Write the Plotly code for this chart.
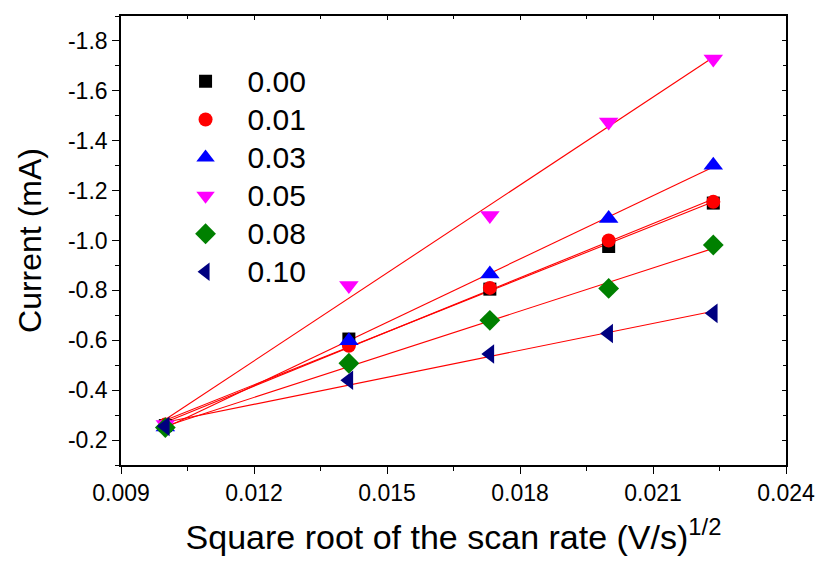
import numpy as np
import plotly.graph_objects as go

# Square root of the scan rate, (V/s)^1/2
sqrt_scan_rate = [0.01, 0.01414, 0.01732, 0.02, 0.02236]

# Peak current (mA) for each additive content
labels = ["0.00", "0.01", "0.03", "0.05", "0.08", "0.10"]
current_000 = [-0.258, -0.605, -0.805, -0.976, -1.150]
current_001 = [-0.262, -0.578, -0.810, -1.000, -1.155]
current_003 = [-0.252, -0.598, -0.866, -1.088, -1.302]
current_005 = [-0.262, -0.820, -1.100, -1.475, -1.728]
current_008 = [-0.250, -0.508, -0.680, -0.808, -0.982]
current_010 = [-0.255, -0.440, -0.545, -0.627, -0.708]

series = [current_000, current_001, current_003, current_005, current_008, current_010]
colors = ["#000000", "#ff0000", "#0000ff", "#ff00ff", "#008000", "#000080"]
symbols = ["square", "circle", "triangle-up", "triangle-down", "diamond", "triangle-left"]
sizes = [13, 14, 17, 17, 16, 17]

y_ticks = [-0.2, -0.4, -0.6, -0.8, -1.0, -1.2, -1.4, -1.6, -1.8]
y_ticktext = ["-0.2", "-0.4", "-0.6", "-0.8", "-1.0", "-1.2", "-1.4", "-1.6", "-1.8"]
x_ticks = [0.009, 0.012, 0.015, 0.018, 0.021, 0.024]
x_ticktext = ["0.009", "0.012", "0.015", "0.018", "0.021", "0.024"]

FONT = "Arial, Liberation Sans, sans-serif"

fig = go.Figure()

x_arr = np.array(sqrt_scan_rate)

# Linear fits (drawn first, behind the markers)
for vals in series:
    slope, icpt = np.polyfit(x_arr, np.array(vals), 1)
    xf = np.array([x_arr.min(), x_arr.max()])
    fig.add_trace(go.Scatter(
        x=xf, y=slope * xf + icpt, mode="lines",
        line=dict(color="#ff0000", width=1.1),
        showlegend=False, hoverinfo="skip",
    ))

for name, vals, c, s, sz in zip(labels, series, colors, symbols, sizes):
    fig.add_trace(go.Scatter(
        x=sqrt_scan_rate, y=vals, mode="markers",
        name=f"<span style='font-size:30px'>{name}</span>",
        marker=dict(color=c, symbol=s, size=sz, line=dict(width=0)),
    ))

axis_common = dict(
    showline=True, linecolor="black", linewidth=1.6,
    showgrid=False, zeroline=False,
    ticks="outside", ticklen=7, tickwidth=1.3, tickcolor="black",
    tickfont=dict(family=FONT, size=23, color="black"),
)

fig.update_layout(
    width=827, height=562,
    margin=dict(l=121, r=32, t=16, b=89),
    paper_bgcolor="white", plot_bgcolor="white",
    font=dict(family=FONT, color="black"),
    xaxis=dict(
        **axis_common,
        range=[0.009, 0.024], tickvals=x_ticks, ticktext=x_ticktext,
        minor=dict(dtick=0.0015, tick0=0.009, ticks="outside", ticklen=4,
                   tickwidth=1.2, tickcolor="black"),
        mirror=True,
        title=dict(text="Square root of the scan rate (V/s)<sup>1/2</sup>",
                   font=dict(family=FONT, size=34, color="black"), standoff=20),
    ),
    yaxis=dict(
        **axis_common,
        range=[-0.1, -1.9], tickvals=y_ticks, ticktext=y_ticktext,
        minor=dict(dtick=0.1, tick0=-0.1, ticks="outside", ticklen=4,
                   tickwidth=1.2, tickcolor="black"),
        mirror=True,
        title=dict(text="Current (mA)",
                   font=dict(family=FONT, size=32, color="black"), standoff=17),
    ),
    # Inward ticks on the top and right frame edges
    xaxis2=dict(
        overlaying="x", matches="x", side="top", showticklabels=False,
        tickvals=x_ticks, ticks="inside", ticklen=4, tickwidth=1.2,
        tickcolor="black", showgrid=False, zeroline=False,
        minor=dict(dtick=0.0015, tick0=0.009, ticks="inside", ticklen=3,
                   tickwidth=1.0, tickcolor="black"),
    ),
    yaxis2=dict(
        overlaying="y", matches="y", side="right", showticklabels=False,
        tickvals=y_ticks, ticks="inside", ticklen=4, tickwidth=1.2,
        tickcolor="black", showgrid=False, zeroline=False,
        minor=dict(dtick=0.1, tick0=-0.1, ticks="inside", ticklen=3,
                   tickwidth=1.0, tickcolor="black"),
    ),
    legend=dict(
        x=0.064, y=0.908, xanchor="left", yanchor="top",
        bgcolor="rgba(0,0,0,0)", borderwidth=0,
        font=dict(family=FONT, size=27, color="black"),
        itemwidth=74, tracegroupgap=0,
    ),
    showlegend=True,
)

# Invisible trace to activate the secondary axes for the frame ticks
fig.add_trace(go.Scatter(x=[0.01], y=[-0.3], xaxis="x2", yaxis="y2",
                         mode="markers", marker=dict(opacity=0),
                         showlegend=False, hoverinfo="skip"))

fig.write_html("out.html")
